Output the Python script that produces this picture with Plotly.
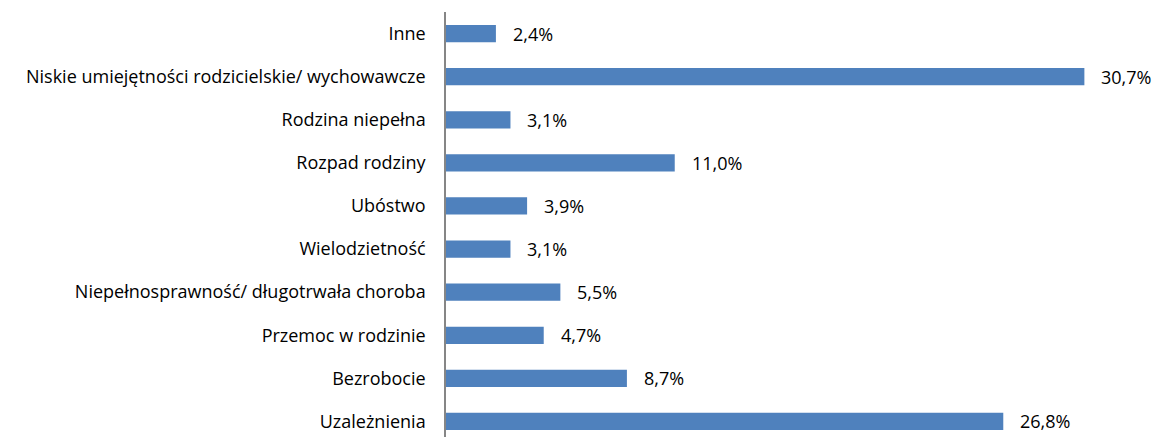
import plotly.graph_objects as go

categories = ["Uzależnienia", "Bezrobocie", "Przemoc w rodzinie",
              "Niepełnosprawność/ długotrwała choroba", "Wielodzietność",
              "Ubóstwo", "Rozpad rodziny", "Rodzina niepełna",
              "Niskie umiejętności rodzicielskie/ wychowawcze", "Inne"]
values = [26.8, 8.7, 4.7, 5.5, 3.1, 3.9, 11.0, 3.1, 30.7, 2.4]
labels = [f"{v:.1f}".replace(".", ",") + "%" for v in values]

FONT = "Open Sans, Liberation Sans, Arial, sans-serif"

fig = go.Figure(go.Bar(
    y=categories, x=values, orientation="h",
    marker=dict(color="#4F81BD", line=dict(width=0)),
    width=0.4, hoverinfo="skip",
))

for c, v, t in zip(categories, values, labels):
    fig.add_annotation(x=v, y=c, text=t, showarrow=False, xanchor="left",
                       xshift=15, font=dict(family=FONT, size=18, color="#000000"))

fig.update_layout(
    width=1156, height=437,
    margin=dict(l=446, r=3, t=12, b=0),
    paper_bgcolor="white", plot_bgcolor="white",
    showlegend=False,
    font=dict(family=FONT, size=18, color="#000000"),
    xaxis=dict(range=[0, 34], showgrid=False, zeroline=False, showline=False,
               showticklabels=False, ticks=""),
    yaxis=dict(range=[-0.36, 9.5], showgrid=False, zeroline=False, showline=True,
               linecolor="#868686", linewidth=1.5, ticks="", ticklabelstandoff=15,
               automargin=False,
               tickfont=dict(family=FONT, size=18, color="#000000")),
)

fig.write_html("out.html", config={"displayModeBar": False},
               post_script="document.body.style.margin='0';document.body.style.padding='0';")
